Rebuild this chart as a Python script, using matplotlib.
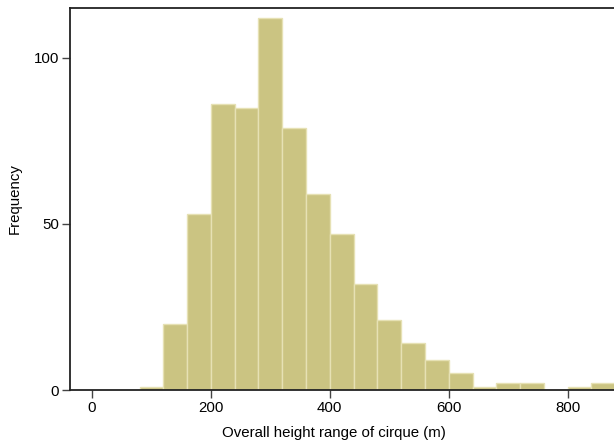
import matplotlib
matplotlib.use("Agg")
import matplotlib.pyplot as plt
import numpy as np

# Histogram of cirque height ranges (bin width 40 m)
bin_edges = [80, 120, 160, 200, 240, 280, 320, 360, 400, 440, 480,
             520, 560, 600, 640, 680, 720, 760, 800, 840, 880]
counts = [1, 20, 53, 86, 85, 112, 79, 59, 47, 32, 21,
          14, 9, 5, 1, 2, 2, 0, 1, 2]
x_ticks = [0, 200, 400, 600, 800]
y_ticks = [0, 50, 100]

plt.rcParams['font.family'] = ['Liberation Sans', 'DejaVu Sans']

fig = plt.figure(figsize=(6.14, 4.45), dpi=100)
W, H = 614, 445
left, right, top, bottom = 70, 614, 8, 390
ax = fig.add_axes([left / W, 1 - bottom / H, (right - left) / W, (bottom - top) / H])

edges = np.array(bin_edges)
ax.bar(edges[:-1], counts, width=np.diff(edges), align='edge',
       color='#cbc482', edgecolor='#e6e1b4', linewidth=1.0)

ax.set_xlim(-37, 878)
ax.set_ylim(0, 115)
ax.set_xticks(x_ticks)
ax.set_yticks(y_ticks)
ax.tick_params(axis='both', direction='out', length=6, width=1, colors='#444444',
               labelsize=10.8, labelcolor='black', pad=2)
for s in ['left', 'top', 'bottom']:
    ax.spines[s].set_color('#222222')
    ax.spines[s].set_linewidth(1.3)
ax.spines['right'].set_visible(False)

ax.set_xlabel('Overall height range of cirque (m)', fontsize=10.8)
ax.set_ylabel('Frequency', fontsize=10.8)
ax.xaxis.set_label_coords((334 - left) / (right - left), -(433 - bottom) / (bottom - top))
ax.yaxis.set_label_coords(-(left - 15) / (right - left), 0.5)
ax.xaxis.label.set_va('center')
ax.yaxis.label.set_va('center')

fig.savefig('out.png', dpi=100)
